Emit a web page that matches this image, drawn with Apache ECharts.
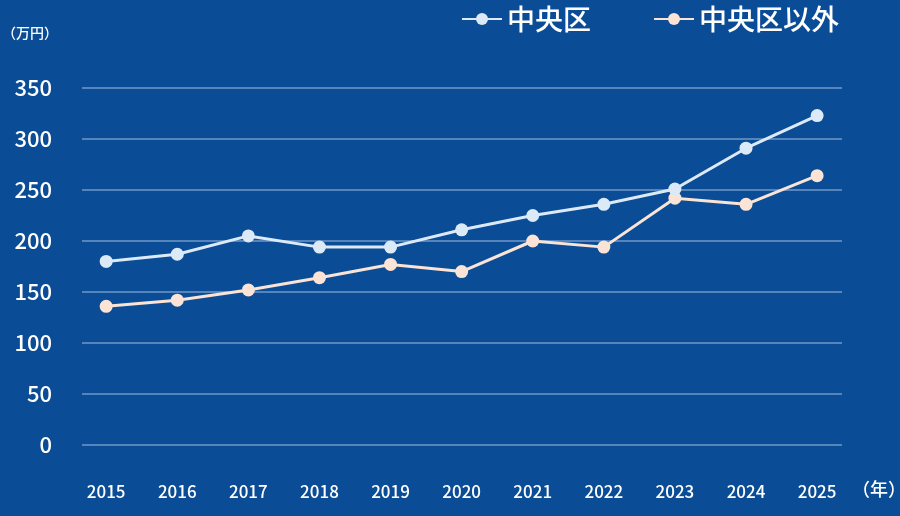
<!DOCTYPE html>
<html><head><meta charset="utf-8">
<script src="https://cdn.jsdelivr.net/npm/echarts@6/dist/echarts.min.js"></script>
<style>html,body{margin:0;padding:0;background:#0a4c95}#c{width:900px;height:516px}</style>
</head><body><div id="c"></div>
<script>
const years=[2015,2016,2017,2018,2019,2020,2021,2022,2023,2024,2025];
const chuo=[180,187,205,194,194,211,225,236,251,291,323];
const other=[136,142,152,164,177,170,200,194,242,236,264];
const yTicks=[0,50,100,150,200,250,300,350];
const font='"Noto Sans CJK JP","Noto Sans",sans-serif';
const chart=echarts.init(document.getElementById('c'));
const mk=(name,vals,color)=>({name,type:'line',data:years.map((y,i)=>[y,vals[i]]),
  symbol:'circle',symbolSize:13,lineStyle:{color,width:3},itemStyle:{color},z:name==='中央区'?3:2});
chart.setOption({
  backgroundColor:'#0a4c95',
  textStyle:{fontFamily:font},
  grid:{left:82,right:58,top:88,bottom:71},
  legend:{right:56,top:0,itemWidth:40,itemHeight:15,itemGap:62,
    textStyle:{color:'#fff',fontSize:28,fontFamily:font,fontWeight:500},
    data:['中央区','中央区以外']},
  graphic:[
    {type:'text',left:2,top:26,style:{text:'（万円）',fill:'#fff',fontSize:14,fontFamily:font,fontWeight:500}},
    {type:'text',left:852,top:480,style:{text:'（年）',fill:'#fff',fontSize:18,fontFamily:font,fontWeight:500}}
  ],
  xAxis:{type:'value',min:2014.66,max:2025.35,
    axisLine:{show:false},axisTick:{show:false},splitLine:{show:false},
    axisLabel:{customValues:years,formatter:v=>String(Math.round(v)),color:'#fff',fontSize:17,fontWeight:500,margin:38,fontFamily:font}},
  yAxis:{type:'value',min:0,max:350,interval:50,
    axisLine:{show:false},axisTick:{show:false},
    splitLine:{lineStyle:{color:'#6f98c9',width:1.5}},
    axisLabel:{color:'#fff',fontSize:22,fontWeight:500,margin:30,fontFamily:font}},
  series:[mk('中央区',chuo,'#dceaf8'),mk('中央区以外',other,'#fbe3d6')]
});
</script></body></html>
